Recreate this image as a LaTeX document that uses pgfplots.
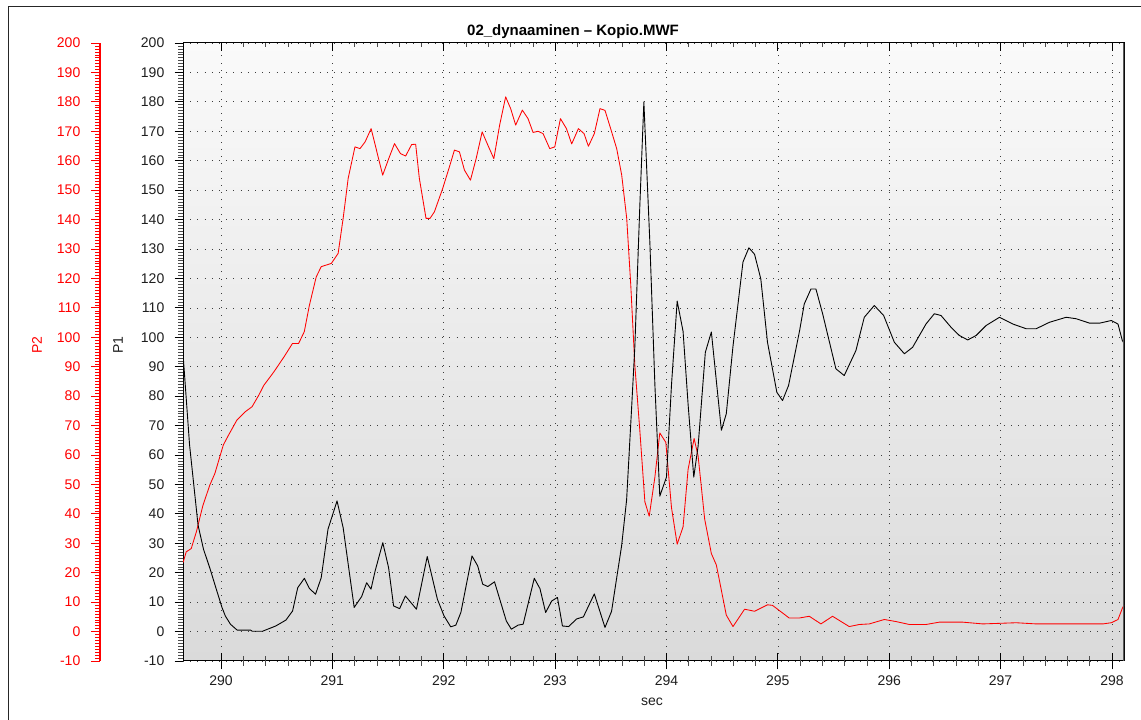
\documentclass[border=0pt]{standalone}
\usepackage{fontspec}
\setmainfont{Liberation Sans}
\usepackage{pgfplots}
\pgfplotsset{compat=1.18}
\usepackage{pgfplotstable}

% P1 (black) samples: time in s, value
\pgfplotstableread{
t p
289.660 94.0
289.718 63.4
289.794 36.2
289.843 28.0
289.903 21.2
289.949 15.5
290.009 8.2
290.039 5.3
290.085 2.5
290.145 0.5
290.266 0.5
290.281 0.1
290.372 0.1
290.492 1.9
290.583 3.9
290.643 7.0
290.689 14.9
290.749 18.1
290.795 14.6
290.849 12.7
290.900 18.3
290.961 34.8
291.042 44.4
291.097 35.3
291.196 8.2
291.263 11.9
291.308 16.6
291.347 14.4
291.384 20.6
291.453 30.2
291.505 21.7
291.550 8.7
291.604 7.8
291.656 12.1
291.755 7.6
291.852 25.5
291.943 11.0
292.003 5.3
292.063 1.6
292.109 2.2
292.154 6.5
292.254 25.7
292.305 22.3
292.350 16.1
292.396 15.3
292.456 16.9
292.562 3.6
292.607 0.8
292.668 2.2
292.713 2.5
292.813 18.1
292.864 14.6
292.915 6.5
292.970 10.4
293.021 11.6
293.066 1.9
293.121 1.7
293.194 4.3
293.254 5.0
293.352 12.8
293.448 1.4
293.507 6.9
293.597 29.1
293.642 44.7
293.687 76.0
293.716 96.9
293.761 145.0
293.797 180.0
293.851 132.0
293.896 83.8
293.940 46.0
294.000 52.5
294.045 83.8
294.096 112.3
294.149 102.0
294.194 77.3
294.245 52.5
294.284 63.0
294.349 94.9
294.403 101.8
294.493 68.4
294.537 74.0
294.597 96.9
294.687 125.6
294.740 130.4
294.791 128.2
294.847 119.8
294.907 98.3
294.991 81.3
295.042 78.5
295.096 83.6
295.194 102.0
295.237 111.3
295.297 116.4
295.342 116.4
295.402 108.0
295.521 89.3
295.596 87.0
295.701 95.5
295.776 106.8
295.866 110.8
295.950 107.4
296.046 98.3
296.136 94.4
296.210 96.6
296.330 104.5
296.405 108.0
296.465 107.4
296.555 103.4
296.630 100.6
296.705 99.1
296.780 100.6
296.870 104.0
296.990 106.8
297.110 104.5
297.230 102.9
297.319 102.9
297.439 105.1
297.589 106.8
297.679 106.3
297.799 104.8
297.889 104.8
297.994 105.7
298.054 104.5
298.093 98.9
298.108 98.0
}\pone

% P2 (red) samples: time in s, value
\pgfplotstableread{
t p
289.660 23.5
289.688 27.1
289.733 28.2
289.779 33.9
289.839 43.0
289.900 49.8
289.945 53.7
290.021 63.4
290.067 66.7
290.142 71.8
290.218 74.7
290.279 76.4
290.339 80.3
290.385 83.7
290.476 88.3
290.567 93.4
290.642 97.9
290.697 97.9
290.748 101.9
290.794 110.9
290.855 120.5
290.900 124.0
290.991 125.1
291.052 128.5
291.097 140.4
291.142 154.0
291.203 164.7
291.248 164.1
291.294 166.4
291.348 170.9
291.400 163.0
291.452 155.1
291.506 160.7
291.558 165.8
291.612 162.4
291.658 161.6
291.712 165.5
291.748 165.6
291.781 154.0
291.841 140.4
291.877 140.4
291.916 142.6
291.991 150.6
292.051 157.9
292.096 163.6
292.141 163.0
292.186 156.8
292.240 153.4
292.291 160.7
292.345 169.8
292.396 165.3
292.450 160.7
292.502 172.1
292.556 181.7
292.601 177.7
292.646 172.1
292.706 177.2
292.757 174.3
292.802 169.6
292.847 170.0
292.892 169.2
292.952 164.1
292.997 164.7
293.048 174.3
293.102 170.9
293.149 165.7
293.209 170.9
293.260 169.2
293.299 164.9
293.352 169.2
293.403 177.7
293.448 177.1
293.498 171.0
293.553 164.1
293.598 155.1
293.643 140.4
293.679 118.0
293.716 90.4
293.761 68.2
293.806 44.1
293.845 39.2
293.896 52.5
293.940 67.5
293.994 64.3
294.045 42.1
294.096 29.7
294.149 35.6
294.194 55.1
294.248 65.6
294.284 59.7
294.343 38.2
294.403 26.5
294.448 22.6
294.537 5.6
294.597 1.7
294.701 7.6
294.791 6.9
294.907 9.1
294.952 8.9
295.102 4.6
295.192 4.6
295.282 5.2
295.387 2.6
295.491 5.2
295.641 1.7
295.731 2.4
295.821 2.6
295.956 4.1
296.061 3.4
296.181 2.4
296.330 2.4
296.450 3.2
296.660 3.2
296.840 2.6
297.140 3.0
297.319 2.6
297.589 2.6
297.919 2.6
297.994 3.0
298.054 4.1
298.093 7.9
298.108 9.0
}\ptwo

\definecolor{labelblack}{RGB}{30,30,30}
\definecolor{gridgray}{RGB}{60,60,60}

\begin{document}
\begin{tikzpicture}
\useasboundingbox (0pt,0pt) rectangle (1141pt,720pt);
% window frame
\draw[line width=1.4pt, black!85] (8.5pt,-5pt) -- (8.5pt,713.5pt) -- (1146pt,713.5pt);

\pgfplotsset{
  /pgf/number format/assume math mode=true,
  every axis/.append style={
    scale only axis, height=618pt, ymin=-10, ymax=200,
    ytick={-10,0,...,200}, minor y tick num=9,
    ticklabel style={font=\fontsize{14}{16}\selectfont},
  },
}

% P2 scale on the far left
\begin{axis}[
  at={(100pt,59pt)}, anchor=south west, width=20pt,
  xmin=0, xmax=1,
  axis y line*=left, axis x line=none,
  y axis line style={draw=red, line width=1.1pt},
  tick align=outside, major tick length=9pt, minor tick length=5pt,
  tick style={red}, major tick style={line width=0.9pt}, minor tick style={line width=0.5pt},
  yticklabel style={red, anchor=east, inner sep=0pt},
  yticklabel shift=10.5pt,
  ylabel={P2},
  ylabel style={red, font=\fontsize{14}{16}\selectfont, at={(axis description cs:-3.15,0.511)}, anchor=center},
]
\end{axis}

% main plot area with P1 scale
\begin{axis}[
  at={(183pt,59pt)}, anchor=south west, width=941pt,
  xmin=289.659, xmax=298.108,
  xtick={290,...,298}, minor x tick num=4,
  xtick pos=left, ytick pos=left,
  tick align=outside, major tick length=8.5pt, minor tick length=5pt,
  tick style={black}, major tick style={line width=0.9pt}, minor tick style={line width=0.6pt, black!70},
  axis line style={black, line width=1pt},
  axis background/.style={top color=gray!4, bottom color=gray!29},
  grid=major,
  major grid style={gridgray, line width=0.7pt, dash pattern=on 0.8pt off 6.4pt},
  yticklabel style={labelblack, anchor=east, inner sep=0pt},
  yticklabel shift=10pt,
  xticklabel style={labelblack, anchor=north, inner sep=0pt},
  xticklabel shift=6.5pt,
  /pgf/number format/.cd, set thousands separator={}, /pgfplots/.cd,
  ylabel={P1},
  ylabel style={labelblack, font=\fontsize{14}{16}\selectfont, at={(axis description cs:-0.0691,0.511)}, anchor=center},
  xlabel={sec},
  xlabel style={labelblack, font=\fontsize{14}{16}\selectfont, at={(axis description cs:0.4984,-0.0663)}, anchor=center},
  title={02\_dynaaminen – Kopio.MWF},
  title style={font=\bfseries\fontsize{15}{17}\selectfont, at={(axis description cs:0.4145,1.021)}, anchor=center, yshift=-8pt},
]
\addplot[red, line width=0.85pt, line join=round] table[x=t, y=p] {\ptwo};
\addplot[black, line width=0.9pt, line join=round] table[x=t, y=p] {\pone};
\draw[gray!70!black, line width=1.3pt] (rel axis cs:1,0) -- (rel axis cs:1,1);
\end{axis}

% inner halves of the time ticks, bottom and top
\begin{axis}[
  at={(183pt,59pt)}, anchor=south west, width=941pt,
  xmin=289.659, xmax=298.108,
  xtick={290,...,298}, minor x tick num=4, xticklabels={},
  ytick=\empty, minor y tick num=0,
  xtick pos=both, tick align=inside,
  major tick length=8pt, minor tick length=4.5pt,
  tick style={black}, major tick style={line width=0.9pt}, minor tick style={line width=0.6pt, black!70},
  axis line style={draw=none},
]
\end{axis}
\end{tikzpicture}
\end{document}
